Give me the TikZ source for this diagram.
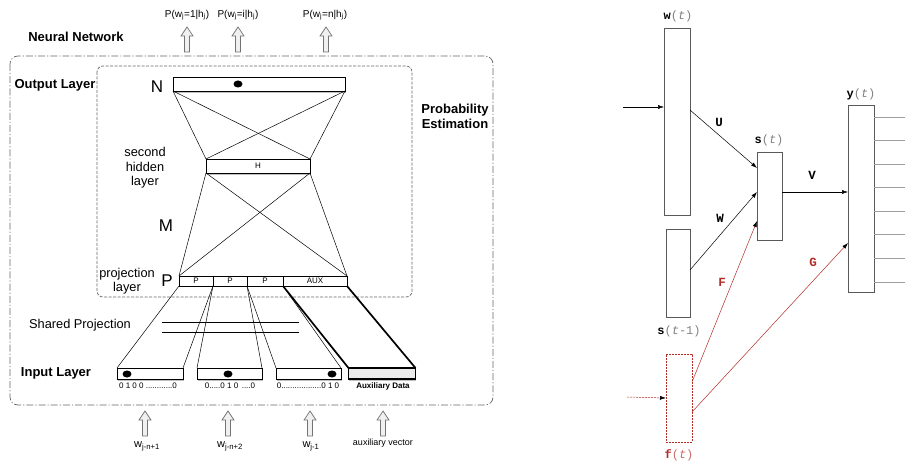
\documentclass[tikz,border=0pt]{standalone}
\usepackage{fontspec}
\setmainfont{Liberation Sans}
\newfontfamily\monof{Liberation Mono}
\usetikzlibrary{arrows.meta,shadows,shapes.geometric}
\definecolor{dred}{RGB}{178,44,40}
\begin{document}
\begin{tikzpicture}[x=1pt,y=-1pt,
  every node/.style={inner sep=0pt, outer sep=0pt},
  lbl/.style={font=\fontsize{12.8}{14.5}\selectfont, align=center},
  blbl/.style={font=\bfseries\fontsize{13}{15}\selectfont, align=center},
  biglbl/.style={font=\fontsize{17}{18}\selectfont},
  plbl/.style={font=\fontsize{10}{11}\selectfont},
  smalllbl/.style={font=\fontsize{8}{9}\selectfont},
  layerbox/.style={draw, fill=white, line width=0.6pt,
     drop shadow={shadow xshift=0.8pt, shadow yshift=-2.2pt, opacity=0.5}},
  cell/.style={draw, fill=white, line width=0.6pt, minimum height=10pt,
     font=\fontsize{8}{8}\selectfont},
  inbox/.style={layerbox, minimum height=11pt},
  dotmark/.style={ellipse, fill=black, minimum width=9pt, minimum height=7pt},
  conn/.style={line width=0.5pt},
  thickconn/.style={line width=1.7pt},
  outerframe/.style={draw=black!60, line width=0.7pt, rounded corners=8pt,
     dash pattern=on 7pt off 2pt on 1.2pt off 2pt},
  innerframe/.style={draw=black!60, line width=0.7pt, rounded corners=6pt,
     dash pattern=on 3pt off 1.5pt},
  blockup/.pic={\draw[draw=black!55, fill=gray!12, line width=0.7pt]
     (-2.5,0) -- (-2.5,-16) -- (-6,-16) -- (0,-25) -- (6,-16) -- (2.5,-16) -- (2.5,0) -- cycle;},
  rbox/.style={draw=gray!70!black, line width=0.8pt, fill=white},
  fbox/.style={draw=dred, line width=0.7pt, dash pattern=on 2pt off 1pt, fill=white},
  rarr/.style={-{Latex[length=6pt,width=4pt]}, line width=0.5pt},
  redarr/.style={draw=dred, -{Latex[length=6pt,width=4pt,color=black]}, line width=0.5pt},
  mlbl/.style={font=\monof\fontsize{12}{12}\selectfont},
  outline/.style={draw=gray!75, line width=0.8pt}
]
\useasboundingbox (0,0) rectangle (905,462);

% ---------------- left diagram ----------------
\draw[outerframe] (10,56) rectangle (493,405);
\draw[innerframe] (97,66) rectangle (412,297);

\node[blbl] (tnn) at (76,37) {Neural Network};
\node[blbl] (tol) at (55,85) {Output Layer};
\node[blbl] (tpe) at (455,116) {Probability\\Estimation};
\node[lbl] (tsh) at (145,168) {second\\hidden\\layer};
\node[lbl, font=\fontsize{12.8}{14}\selectfont] (tpl) at (127,281) {projection\\layer};
\node[lbl] (tsp) at (80,325) {Shared Projection};
\node[blbl] (til) at (56,373) {Input Layer};

\node[biglbl] (tN) at (157,87) {N};
\node[biglbl] (tM) at (166,226) {M};
\node[biglbl] (tP) at (167,281) {P};

% layers
\node[layerbox, minimum width=172pt, minimum height=14pt] (outN) at (259,84) {};
\node[dotmark] (dotN) at (238,84) {};
\node[layerbox, minimum width=104pt, minimum height=14pt, font=\fontsize{8}{8}\selectfont] (hid) at (258,166) {H};

\node[cell, minimum width=34pt] (p1) at (196,281) {P};
\node[cell, minimum width=34pt] (p2) at (230,281) {P};
\node[cell, minimum width=36pt] (p3) at (265,281) {P};
\node[cell, minimum width=64pt] (paux) at (315,281) {AUX};

% connections N -> H
\draw[conn] (outN.south west) -- (hid.north west);
\draw[conn] (outN.south east) -- (hid.north east);
\draw[conn] (outN.south west) -- (hid.north east);
\draw[conn] (outN.south east) -- (hid.north west);
% H -> P
\draw[conn] (hid.south west) -- (p1.north west);
\draw[conn] (hid.south east) -- (paux.north east);
\draw[conn] (hid.south west) -- (paux.north east);
\draw[conn] (hid.south east) -- (p1.north west);

% shared projection lines
\coordinate (sp1a) at (162,322);
\coordinate (sp1b) at (299,322);
\coordinate (sp2a) at (162,332);
\coordinate (sp2b) at (299,332);
\draw[conn] (sp1a) -- (sp1b);
\draw[conn] (sp2a) -- (sp2b);

% input boxes
\node[inbox, minimum width=66pt] (in1) at (150,373.5) {};
\node[inbox, minimum width=65pt] (in2) at (229.5,373.5) {};
\node[inbox, minimum width=65pt] (in3) at (308.5,373.5) {};
\node[draw, line width=1.6pt, fill=gray!15, minimum width=67pt, minimum height=11pt,
      drop shadow={shadow xshift=0.8pt, shadow yshift=-2.2pt, opacity=0.5}] (inaux) at (382,373.5) {};
\node[dotmark] (dot1) at (127,374) {};
\node[dotmark] (dot2) at (228,374) {};
\node[dotmark] (dot3) at (332,374) {};

% P -> input
\draw[conn] (p1.south west) -- (in1.north west);
\draw[conn] (p1.south east) -- (in1.north east);
\draw[conn] (p2.south west) -- (in2.north west);
\draw[conn] (p2.south east) -- (in2.north east);
\draw[conn] (p3.south west) -- (in3.north west);
\draw[conn] (p3.south east) -- (in3.north east);
\draw[thickconn] (paux.south west) -- (inaux.north west);
\draw[thickconn] (paux.south east) -- (inaux.north east);

% vector labels
\node[smalllbl] (v1) at (148,386) {0 1 0 0 ............0};
\node[smalllbl] (v2) at (230,386) {0.....0 1 0 \,....0};
\node[smalllbl] (v3) at (308,386) {0..................0 1 0};
\node[smalllbl, font=\bfseries\fontsize{8}{9}\selectfont] (v4) at (383,386) {Auxiliary Data};

% top arrows and labels
\pic (ua1) at (187,52) {blockup};
\pic (ua2) at (238,52) {blockup};
\pic (ua3) at (326,52) {blockup};
\node[plbl] (pl1) at (187,15) {P(w\textsubscript{j}=1|h\textsubscript{j})};
\node[plbl] (pl2) at (238,15) {P(w\textsubscript{j}=i|h\textsubscript{j})};
\node[plbl] (pl3) at (325,15) {P(w\textsubscript{j}=n|h\textsubscript{j})};

% bottom arrows and labels
\pic (ba1) at (145,436) {blockup};
\pic (ba2) at (228,436) {blockup};
\pic (ba3) at (310,436) {blockup};
\pic (ba4) at (383,436) {blockup};
\node[plbl, font=\fontsize{11}{12}\selectfont] (wl1) at (147,446) {w\textsubscript{j-n+1}};
\node[plbl, font=\fontsize{11}{12}\selectfont] (wl2) at (230,446) {w\textsubscript{j-n+2}};
\node[plbl, font=\fontsize{11}{12}\selectfont] (wl3) at (311,446) {w\textsubscript{j-1}};
\node[plbl, font=\fontsize{9}{10}\selectfont] (wl4) at (383,443) {auxiliary vector};

% ---------------- right diagram ----------------
\node[rbox, minimum width=26pt, minimum height=187pt] (wt) at (677,121.5) {};
\node[rbox, minimum width=24pt, minimum height=88pt] (stm) at (678,273) {};
\node[fbox, minimum width=26pt, minimum height=88pt] (ft) at (679,398) {};
\node[rbox, minimum width=25pt, minimum height=88pt] (st) at (769.5,196) {};
\node[rbox, minimum width=26pt, minimum height=187pt] (yt) at (861,198.5) {};

\node[mlbl] (lw) at (678,16) {{\bfseries w}\textcolor{gray}{(\textit{t})}};
\node[mlbl] (ls) at (769,140) {{\bfseries s}\textcolor{gray}{(\textit{t})}};
\node[mlbl] (ly) at (861,94) {{\bfseries y}\textcolor{gray}{(\textit{t})}};
\node[mlbl] (lsm) at (679,331) {{\bfseries s}\textcolor{gray}{(\textit{t}-1)}};
\node[mlbl, text=dred] (lf) at (679,455) {{\bfseries f}\textcolor{dred!70}{(\textit{t})}};

\node[mlbl, font=\monof\bfseries\fontsize{12.5}{12}\selectfont] (lU) at (719,122) {U};
\node[mlbl, font=\monof\bfseries\fontsize{12.5}{12}\selectfont] (lW) at (720,218) {W};
\node[mlbl, font=\monof\bfseries\fontsize{12.5}{12}\selectfont] (lV) at (812,175) {V};
\node[mlbl, font=\monof\bfseries\fontsize{12.5}{12}\selectfont, text=dred] (lF) at (722,282) {F};
\node[mlbl, font=\monof\bfseries\fontsize{12.5}{12}\selectfont, text=dred] (lG) at (813,262) {G};

\coordinate (win) at (623,107);
\coordinate (fin) at (627,397);
\draw[rarr] (win) -- ([yshift=14.5pt]wt.west);
\draw[redarr, dash pattern=on 2pt off 1pt] (fin) -- (ft.west);

\draw[rarr] ([yshift=11.5pt]wt.east) -- ([yshift=28pt]st.west);
\draw[rarr] ([yshift=3pt]stm.east) -- ([yshift=4pt]st.west);
\draw[rarr] ([yshift=4pt]st.east) -- ([yshift=6.5pt]yt.west);
\draw[redarr] ([yshift=16pt]ft.east) -- ([yshift=-25pt]st.west);
\draw[redarr] ([yshift=-14pt]ft.east) -- ([yshift=-44.5pt]yt.west);

\foreach \k in {0,...,7} {
  \pgfmathsetmacro{\sh}{81.5-23.57*\k}
  \draw[outline] ([yshift=\sh pt]yt.east) -- ++(32,0);
}
\end{tikzpicture}
\end{document}
